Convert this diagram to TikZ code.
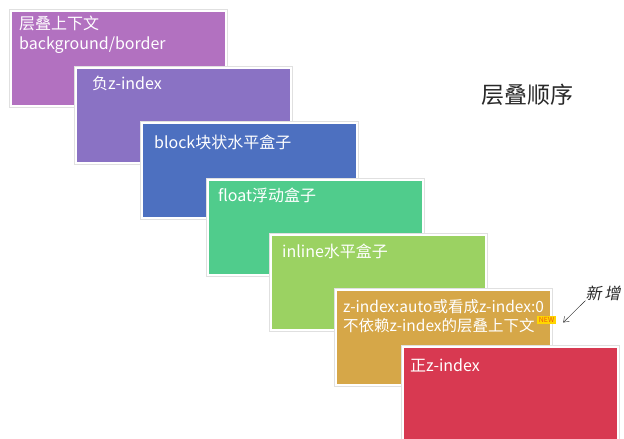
\documentclass[tikz,border=0pt]{standalone}
\usepackage{fontspec}
\setmainfont{Noto Sans CJK SC}
\newfontfamily\handfont[FakeSlant=0.2]{Noto Sans CJK SC}
\usetikzlibrary{arrows.meta, positioning}
\definecolor{layerpink}{RGB}{178,113,192}
\definecolor{layerviolet}{RGB}{138,114,196}
\definecolor{layerblue}{RGB}{77,112,192}
\definecolor{layerteal}{RGB}{80,204,140}
\definecolor{layergreen}{RGB}{155,210,98}
\definecolor{layergold}{RGB}{214,167,72}
\definecolor{layerred}{RGB}{216,57,81}
\definecolor{badgeyellow}{RGB}{255,214,0}
\definecolor{badgetext}{RGB}{235,90,20}
\definecolor{titledark}{RGB}{40,40,40}

\begin{document}
\begin{tikzpicture}[
  x=1pt, y=-1pt,
  layer/.style={
    rectangle, anchor=north west, minimum width=215pt,
    minimum height=95pt, inner sep=0pt, draw=white, line width=1.6pt,
    preaction={draw=black!12, line width=3.4pt}
  },
  layertext/.style={
    anchor=north west, inner sep=0pt, align=left, text=white,
    font=\fontsize{16}{20}\selectfont
  },
  arrow/.style={-{Straight Barb[length=5pt, width=7pt]}, thin, titledark}
]
\clip (0,0) rectangle (624,439);
\useasboundingbox (0,0) rectangle (624,439);

% Layer boxes, back to front
\node[layer, fill=layerpink] (l1) at (10,10) {};
\node[layertext] (t1) at ([shift={(9,6)}]l1.north west) {层叠上下文\\background/border};
\node[layer, fill=layerviolet] (l2) at (75,67) {};
\node[layertext] (t2) at ([shift={(17,9)}]l2.north west) {负z-index};
\node[layer, fill=layerblue] (l3) at (141,122) {};
\node[layertext] (t3) at ([shift={(13,13)}]l3.north west) {block块状水平盒子};
\node[layer, fill=layerteal] (l4) at (207,179) {};
\node[layertext] (t4) at ([shift={(11,9)}]l4.north west) {float浮动盒子};
\node[layer, fill=layergreen] (l5) at (270,234) {};
\node[layertext] (t5) at ([shift={(12,10)}]l5.north west) {inline水平盒子};
\node[layer, fill=layergold] (l6) at (335,289) {};
\node[layertext, font=\fontsize{15.5}{19}\selectfont] (t6) at ([shift={(8,10)}]l6.north west) {z-index:auto或看成z-index:0\\不依赖z-index的层叠上下文};
\node[layer, fill=layerred] (l7) at (402,346) {};
\node[layertext] (t7) at ([shift={(8,13)}]l7.north west) {正z-index};

% Title and note
\node[font=\fontsize{23}{23}\selectfont, text=titledark] (title) at (527,95) {层叠顺序};
\node[fill=badgeyellow, text=badgetext, inner sep=0pt, minimum width=19pt,
  minimum height=8pt, font=\fontsize{7}{7}\selectfont] (new) at (546.5,319.5) {NEW};
\node[font=\handfont\fontsize{16}{16}\selectfont, text=titledark, inner sep=0pt] (note) at (603,293) {新\,增};
\coordinate (newtip) at ([shift={(7,3)}]new.east);
\draw[arrow] (note.south west) -- (newtip);

\end{tikzpicture}
\end{document}
